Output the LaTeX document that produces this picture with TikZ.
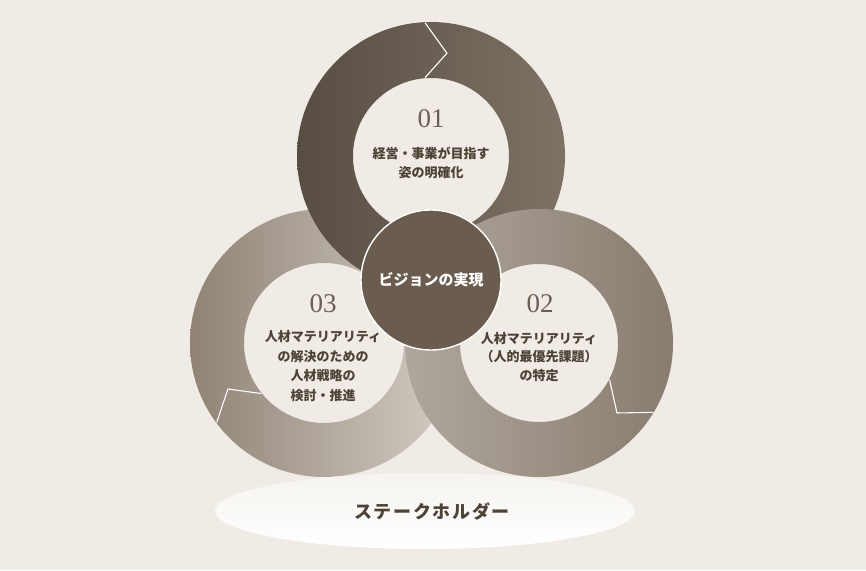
\documentclass[tikz,border=0pt]{standalone}
\usepackage{fontspec}
\setmainfont{Liberation Serif}
\newfontfamily\jp{Noto Sans CJK JP}
\newfontfamily\jpwide{Noto Sans CJK JP}[LetterSpace=9]
\usetikzlibrary{positioning}
\definecolor{fond}{HTML}{F0ECE5}
\definecolor{gauche01}{HTML}{574D42}
\definecolor{droite01}{HTML}{7E7266}
\definecolor{gauche02}{HTML}{AFA79D}
\definecolor{droite02}{HTML}{897C6F}
\definecolor{gauche03}{HTML}{908376}
\definecolor{droite03}{HTML}{D4CEC6}
\definecolor{coeur}{HTML}{6A5D50}
\definecolor{encre}{HTML}{4D4236}
\definecolor{chiffre}{HTML}{6B5F53}
\begin{document}
\begin{tikzpicture}[x=1pt,y=1pt,
					numero/.style={text=chiffre,font=\fontsize{27}{27}\selectfont},
					libelle/.style={text=encre,align=center,font=\jp\bfseries\fontsize{13}{19.5}\selectfont},
					chevron/.style={draw=white,line width=1.1pt,line join=miter}]
					\fill[fond] (0,0) rectangle (866,570);
					\coordinate (c01) at (431,414);
					\coordinate (c02) at (539,227);
					\coordinate (c03) at (324,227);
					\shade[even odd rule,left color=gauche03,right color=droite03] (c03) circle (134) (c03) circle (80);
					\draw[chevron,shift={(c03)}] (216.5:133.5)--(205.6:106.5)--(218.9:80.5);
					\shade[even odd rule,left color=gauche01,right color=droite01] (c01) circle (134) (c01) circle (78);
					\draw[chevron,shift={(c01)}] (92.6:133.5)--(81.2:104)--(94.4:78.5);
					\shade[even odd rule,left color=gauche02,right color=droite02] (c02) circle (134) (c02) circle (79);
					\draw[chevron,shift={(c02)}] (-31.3:133.5)--(-41.9:104.8)--(-27.5:79.5);
					\node[circle,minimum size=140,fill=coeur,draw=white,line width=1.4pt,text=white,
						font=\jp\bfseries\fontsize{15}{15}\selectfont] (vision) at (431,290) {ビジョンの実現};
					\node[numero] (num01) at (431,451) {01};
					\node[libelle] (txt01) at (431,407) {経営・事業が目指す\\姿の明確化};
					\node[numero] (num02) at (540,266) {02};
					\node[libelle,font=\jp\bfseries\fontsize{13}{18.5}\selectfont] (txt02) at (539,213) {人材マテリアリティ\\（人的最優先課題）\\の特定};
					\node[numero] (num03) at (323,266) {03};
					\node[libelle] (txt03) at (323,204) {人材マテリアリティ\\の解決のための\\人材戦略の\\検討・推進};
					\shade[top color=fond!60!white,bottom color=white] (425,59) ellipse (210 and 38);
					\node[text=encre,font=\jpwide\bfseries\fontsize{18}{18}\selectfont] (parties) at (432,58) {ステークホルダー};
				\end{tikzpicture}
\end{document}
